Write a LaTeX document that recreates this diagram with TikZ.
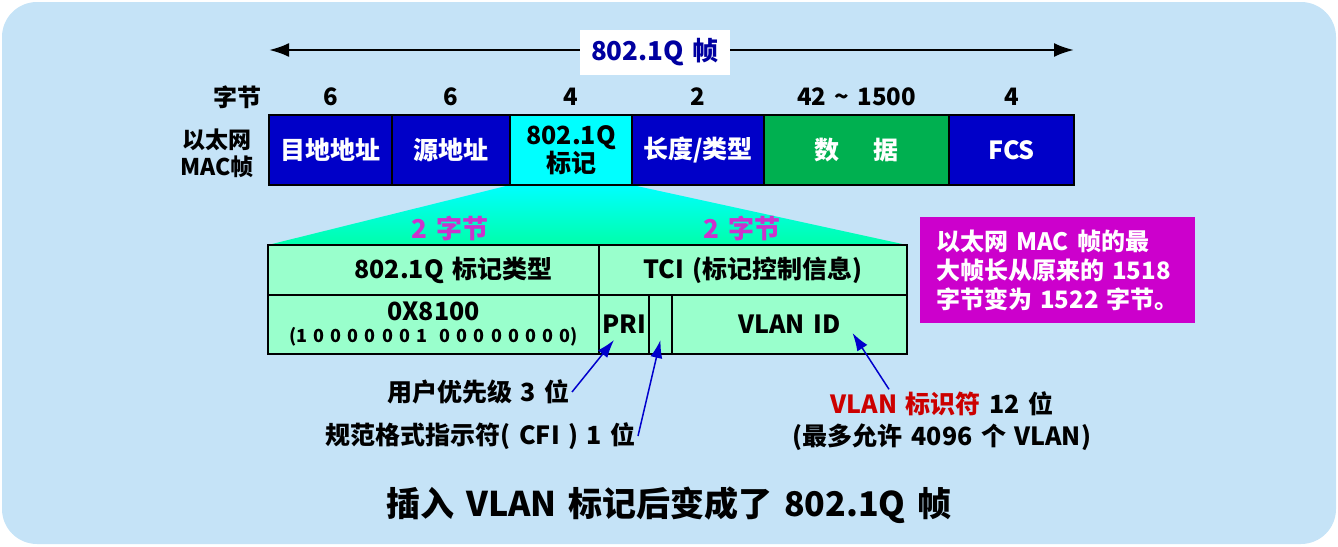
\documentclass[tikz,border=0pt]{standalone}
\usepackage{fontspec}
\setmainfont{Noto Sans CJK SC}[WordSpace=1.5]
\usetikzlibrary{positioning,arrows.meta,backgrounds}

\definecolor{bgblue}{HTML}{C5E3F7}
\definecolor{fieldblue}{HTML}{0000C8}
\definecolor{tagcyan}{HTML}{00FFFF}
\definecolor{datagreen}{HTML}{00B050}
\definecolor{tagmint}{HTML}{99FFCC}
\definecolor{tagspring}{HTML}{00FFAA}
\definecolor{byteviolet}{HTML}{CC33CC}
\definecolor{boxmagenta}{HTML}{CC00CC}
\definecolor{vlanred}{HTML}{CC0000}
\definecolor{pointblue}{HTML}{0000CC}
\definecolor{spanblue}{HTML}{0000A0}

\newcommand{\fsz}[2]{\fontsize{#1}{#2}\selectfont}

\tikzset{
  field/.style={draw=black, line width=2.5pt, fill=fieldblue, text=white,
    minimum height=70pt, inner sep=0pt, outer sep=0pt, font=\fsz{25}{28}\bfseries},
  tagcell/.style={draw=black, line width=2.5pt, fill=tagmint, text=black,
    inner sep=0pt, outer sep=0pt, font=\fsz{25}{28}\bfseries},
  count/.style={font=\fsz{24}{28}\bfseries},
  bytes/.style={text=byteviolet, font=\fsz{26}{30}\bfseries},
  note/.style={inner sep=2pt, font=\fsz{25}{28}\bfseries},
  pointer/.style={draw=pointblue, line width=1.5pt, -{Latex[length=18pt,width=12pt]}},
}

\begin{document}
\begin{tikzpicture}[x=1pt, y=-1pt]
    \useasboundingbox (0,0) rectangle (1338,546);
    % Slide background
    \begin{scope}[on background layer]
        \fill[bgblue, rounded corners=35pt] (2,2) rectangle (1336,544);
    \end{scope}

    % Span of the whole 802.1Q frame
    \coordinate (spanL) at (269,50);
    \coordinate (spanR) at (1074,50);
    \draw[line width=2.5pt, {Latex[length=20pt,width=14pt]}-{Latex[length=20pt,width=14pt]}] (spanL) -- (spanR);
    \node[fill=white, minimum width=150pt, minimum height=45pt, text=spanblue,
        font=\fsz{26}{30}\bfseries] (span) at (655,52) {802.1Q 帧};

    % Ethernet MAC frame fields
    \node[field, anchor=west, minimum width=123pt] (dst) at (269,150) {目地地址};
    \node[field, right=0pt of dst, minimum width=118pt] (src) {源地址};
    \node[field, right=0pt of src, minimum width=122pt, fill=tagcyan, text=black, align=center] (tag) {802.1Q\\标记};
    \node[field, right=0pt of tag, minimum width=132pt] (len) {长度/类型};
    \node[field, right=0pt of len, minimum width=185pt, fill=datagreen] (data) {数\hspace{34pt}据};
    \node[field, right=0pt of data, minimum width=125pt] (fcs) {FCS};

    % Byte counts
    \node[count] (bytelbl) at (237,97) {字节};
    \foreach \f/\n in {dst/6, src/6, tag/4, len/2, data/{42 \textasciitilde{} 1500}, fcs/4} {
        \node[count] (n\f) at ([yshift=53pt]\f.center) {\n};
    }
    \node[count, align=center, font=\fsz{23}{27}\bfseries] (maclbl) at (217,153) {以太网\\MAC帧};

    % Expanded 802.1Q tag
    \node[tagcell, anchor=north west, minimum width=331pt, minimum height=50pt] (tpid) at (268,245) {\hspace{40pt}802.1Q 标记类型};
    \node[tagcell, right=0pt of tpid, minimum width=308pt, minimum height=50pt] (tci) {TCI (标记控制信息)};
    \node[tagcell, below=0pt of tpid, minimum width=331pt, minimum height=59pt, align=center] (tpidval)
        {0X8100\\[-6pt]{\fsz{18}{20}(1 0 0 0 0 0 0 1\ \ 0 0 0 0 0 0 0 0)}};
    \node[tagcell, right=0pt of tpidval, minimum width=50pt, minimum height=59pt] (pri) {PRI};
    \node[tagcell, right=0pt of pri, minimum width=23pt, minimum height=59pt] (cfi) {};
    \node[tagcell, right=0pt of cfi, minimum width=235pt, minimum height=59pt] (vlan) {VLAN ID};

    \begin{scope}[on background layer]
        \shade[top color=tagcyan, bottom color=tagspring]
            (tag.south west) -- (tag.south east) -- (tci.north east) -- (tpid.north west) -- cycle;
    \end{scope}

    \node[bytes] (tpidlen) at (450,228) {2 字节};
    \node[bytes] (tcilen) at (742,228) {2 字节};

    % Size note
    \node[fill=boxmagenta, text=white, align=left, minimum width=275pt, minimum height=106pt,
        font=\fsz{24}{29}\bfseries] (sizenote) at (1057.5,270)
        {以太网 MAC 帧的最\\大帧长从原来的 1518\\字节变为 1522 字节。};

    % Bit fields of TCI
    \node[note, anchor=east] (prinote) at (572,392) {用户优先级 3 位};
    \node[note, anchor=east] (cfinote) at (638,436) {规范格式指示符( CFI ) 1 位};
    \node[note, align=center, font=\fsz{25}{32}\bfseries] (vlannote) at (942,421)
        {\textcolor{vlanred}{VLAN 标识符} 12 位\\(最多允许 4096 个 VLAN)};

    \draw[pointer] (prinote.east) -- ([xshift=-10pt,yshift=14pt]pri.south);
    \draw[pointer] (cfinote.east) -- ([yshift=14pt]cfi.south);
    \draw[pointer] ([xshift=-53pt]vlannote.north) -- ([xshift=63pt,yshift=21pt]vlan.south);

    % Caption
    \node[font=\fsz{34}{40}\bfseries] (caption) at (669,505) {插入 VLAN 标记后变成了 802.1Q 帧};
\end{tikzpicture}
\end{document}
